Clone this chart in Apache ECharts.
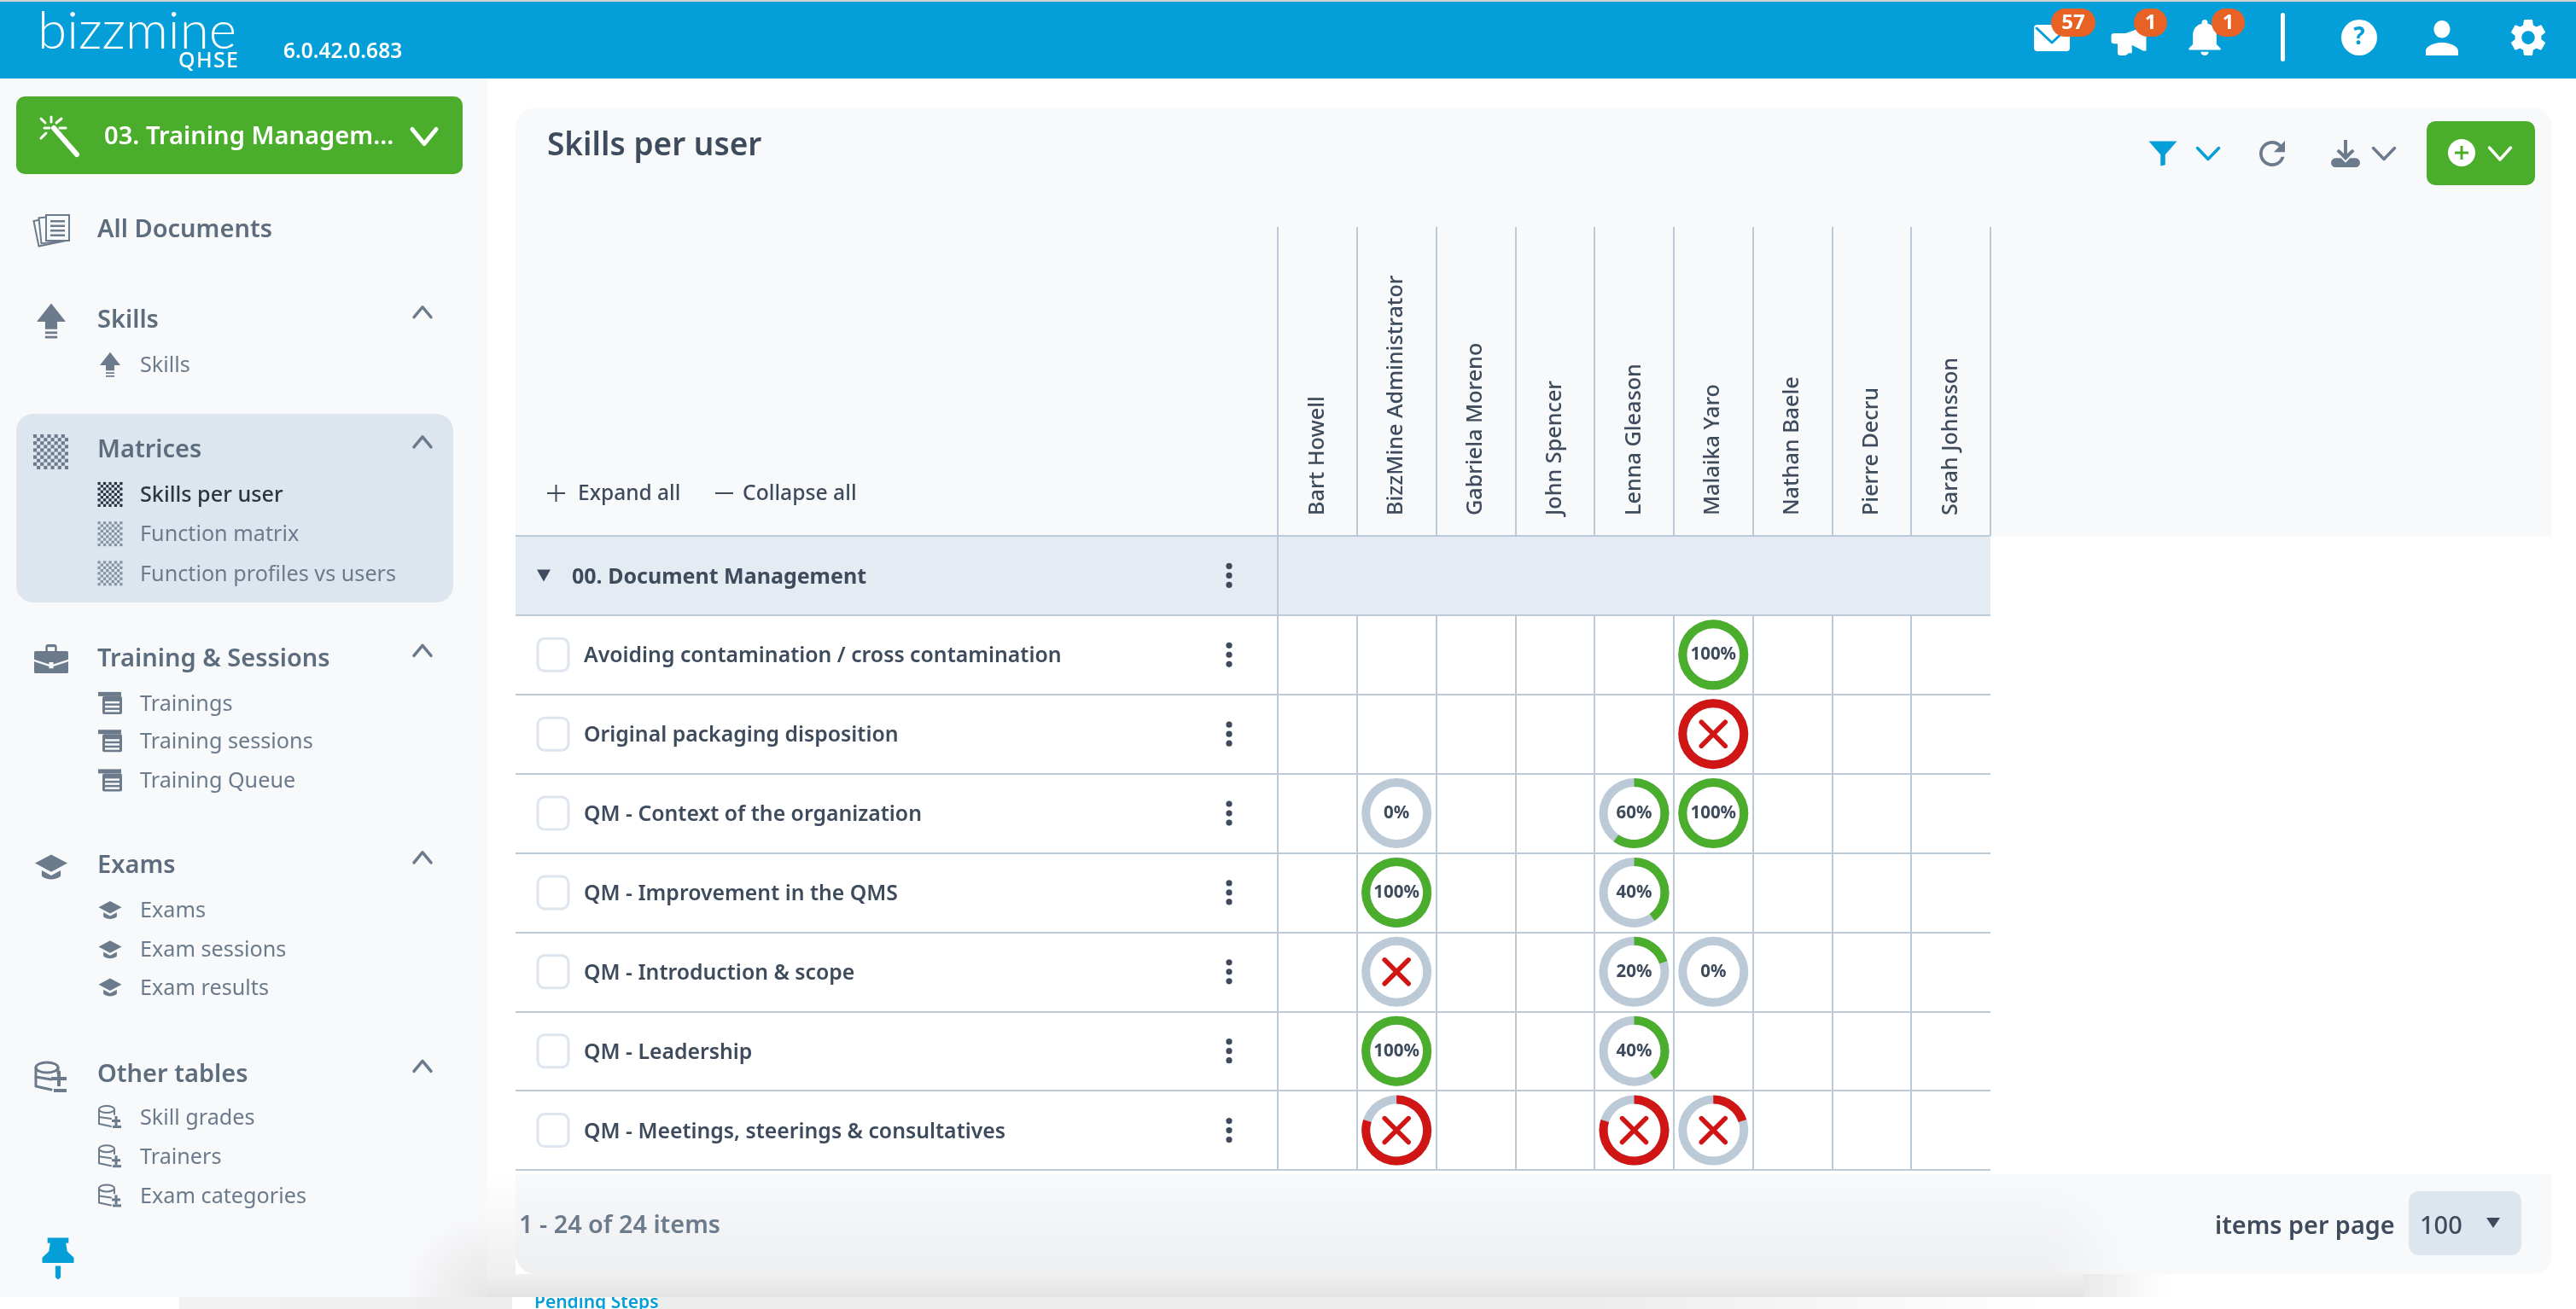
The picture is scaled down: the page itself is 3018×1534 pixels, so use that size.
<!DOCTYPE html>
<html><head><meta charset="utf-8"><style>html,body{margin:0;padding:0;background:#fff}#c{width:3018px;height:1534px}</style>
<script src="https://cdn.jsdelivr.net/npm/echarts@6/dist/echarts.min.js"></script></head>
<body><div id="c"></div><script>
const users=['Bart Howell','BizzMine Administrator','Gabriela Moreno','John Spencer','Lenna Gleason','Malaika Yaro','Nathan Baele','Pierre Decru','Sarah Johnsson'];
const groupName='00. Document Management';
const skills=['Avoiding contamination / cross contamination','Original packaging disposition','QM - Context of the organization','QM - Improvement in the QMS','QM - Introduction & scope','QM - Leadership','QM - Meetings, steerings & consultatives'];
const ringUser=['Malaika Yaro','Malaika Yaro','BizzMine Administrator','Lenna Gleason','Malaika Yaro','BizzMine Administrator','Lenna Gleason','BizzMine Administrator','Lenna Gleason','Malaika Yaro','BizzMine Administrator','Lenna Gleason','BizzMine Administrator','Lenna Gleason','Malaika Yaro'];
const ringSkill=[0,1,2,2,2,3,3,4,4,4,5,5,6,6,6];
const ringPercent=[100,100,0,60,100,100,40,0,20,0,100,40,80,80,20];
const ringFailed=[0,1,0,0,0,0,0,1,0,0,0,0,1,1,1];
const navHeads=[['Skills',194],['Matrices',273],['Training & Sessions',400],['Exams',526],['Other tables',653]];
const navSubs=[['Skills',222,'arrow'],['Skills per user',301,'check'],['Function matrix',325,'check'],['Function profiles vs users',349,'check'],['Trainings',428,'table'],['Training sessions',451,'table'],['Training Queue',475,'table'],['Exams',554,'cap'],['Exam sessions',578,'cap'],['Exam results',601,'cap'],['Skill grades',680,'db'],['Trainers',704,'db'],['Exam categories',728,'db']];

const F='"Noto Sans"',DARK='#3d4b5c',GREY='#6c7b8b',HEAD='#5d6d7e',BLUE='#049fd9',GREEN='#4aad2c',RED='#d01515',LINE='#bccad8',PANEL='#f8f9fb',BAND='#e5ebf2',HILITE='#dde6ef',S=1.925;
const P={
 arrow:'M12 0L24 12H17V17H7V12H0ZM7 18.5H17V20H7ZM7 21.5H17V23H7Z',
 bell:'M12 22c1.1 0 2-.9 2-2h-4c0 1.1.9 2 2 2zm6-6v-5c0-3.07-1.63-5.64-4.5-6.32V4c0-.83-.67-1.5-1.5-1.5s-1.5.67-1.5 1.5v.68C7.64 5.36 6 7.92 6 11v5l-2 2v1h16v-1l-2-2z',
 user:'M12 12c2.21 0 4-1.79 4-4s-1.79-4-4-4-4 1.79-4 4 1.79 4 4 4zm0 2c-2.67 0-8 1.34-8 4v2h16v-2c0-2.66-5.33-4-8-4z',
 gear:'M19.14 12.94c.04-.3.06-.61.06-.94 0-.32-.02-.64-.07-.94l2.03-1.58a.49.49 0 0 0 .12-.61l-1.92-3.32a.488.488 0 0 0-.59-.22l-2.39.96c-.5-.38-1.03-.7-1.62-.94l-.36-2.54a.484.484 0 0 0-.48-.41h-3.84c-.24 0-.43.17-.47.41l-.36 2.54c-.59.24-1.13.57-1.62.94l-2.39-.96c-.22-.08-.47 0-.59.22L2.74 8.87c-.12.21-.08.47.12.61l2.03 1.58c-.05.3-.09.63-.09.94s.02.64.07.94l-2.03 1.58a.49.49 0 0 0-.12.61l1.92 3.32c.12.22.37.29.59.22l2.39-.96c.5.38 1.03.7 1.62.94l.36 2.54c.05.24.24.41.48.41h3.84c.24 0 .44-.17.47-.41l.36-2.54c.59-.24 1.13-.56 1.62-.94l2.39.96c.22.08.47 0 .59-.22l1.92-3.32c.12-.22.07-.47-.12-.61l-2.01-1.58zM12 15.6c-1.98 0-3.6-1.62-3.6-3.6s1.62-3.6 3.6-3.6 3.6 1.62 3.6 3.6-1.62 3.6-3.6 3.6z',
 refresh:'M17.65 6.35A7.958 7.958 0 0 0 12 4c-4.42 0-7.99 3.58-7.99 8s3.57 8 7.99 8c3.73 0 6.84-2.55 7.73-6h-2.08A5.99 5.99 0 0 1 12 18c-3.31 0-6-2.69-6-6s2.69-6 6-6c1.66 0 3.14.69 4.22 1.78L13 11h7V4l-2.35 2.35z',
 funnel:'M0 0H24L14 13V23L10 24V13Z',
 horn:'M0 7Q0 5 2 5H9L20 0H22V20H20L13 15V22H11L9 24H6Q4 24 4 22V14H2Q0 14 0 12Z',
 cap:'M12 4L0 10l12 6 12-6zM5 15v4c4 3 10 3 14 0v-4l-7 3.5z',
 briefcase:'M1 6H23Q24 6 24 7V12L13.5 15.5V14H10.5V15.5L0 12V7Q0 6 1 6ZM8 6V3Q8 1 10 1H14Q16 1 16 3V6H14.5V3H9.5V6ZM0 13.5L10.5 17V18.5H13.5V17L24 13.5V21Q24 22 23 22H1Q0 22 0 21Z',
 pin:'M4 0H20V5H18L19 13L24 19V24H0V19L5 13L6 5H4ZM10 27H14V38L12 40L10 38Z',
 dl:'M10.5 0H13.5V12L18 8L20 10L12 18L4 10L6 8L10.5 12ZM3 16H8L12 20L16 16H21A3 3 0 0 1 21 24H3A3 3 0 0 1 3 16Z'
};
const g=[],reg={};
function shapeOf(d){
 if(!reg[d]){const name='ic'+Object.keys(reg).length,C=echarts.graphic.extendPath(d,{});echarts.graphic.registerShape(name,C);reg[d]={name,b:new C().getBoundingRect()};}
 return reg[d];
}
const rect=(x,y,w,h,fill,r,extra)=>g.push(Object.assign({type:'rect',shape:{x,y,width:w,height:h,r:r||0},style:{fill}},extra||{}));
const txt=(s,x,y,size,weight,fill,align)=>g.push({type:'text',style:{text:s,x,y,font:`${weight} ${size}px ${F}`,fill,align:align||'left',verticalAlign:'middle'}});
const icon=(d,cx,cy,w,h,fill)=>{const k=shapeOf(d),sx=w/k.b.width,sy=h/k.b.height;g.push({type:k.name,x:cx-w/2-k.b.x*sx,y:cy-h/2-k.b.y*sy,scaleX:sx,scaleY:sy,style:{fill}});};
const pl=(pts,stroke,lw)=>g.push({type:'polyline',shape:{points:pts},style:{stroke,lineWidth:lw,fill:'none',lineCap:'round',lineJoin:'round'}});
const circ=(cx,cy,r,fill)=>g.push({type:'circle',shape:{cx,cy,r},style:{fill}});
const chev=(cx,cy,w,h,stroke,lw,up)=>pl(up?[[cx-w/2,cy+h/2],[cx,cy-h/2],[cx+w/2,cy+h/2]]:[[cx-w/2,cy-h/2],[cx,cy+h/2],[cx+w/2,cy-h/2]],stroke,lw);
function checker(x,y,size,n,a){const c=size/n;for(let i=0;i<n;i++)for(let j=0;j<n;j++)if((i+j)%2===0)rect(x+i*c,y+j*c,c,c,a);}
const lin=(x2,y2,stops)=>({type:'linear',x:0,y:0,x2,y2,colorStops:stops.map((c,i)=>({offset:i/(stops.length-1),color:c}))});
function small(kind,cx,cy,c){
 if(kind==='arrow')icon(P.arrow,cx,cy,24,29,c);
 if(kind==='cap')icon(P.cap,cx,cy,27,21,c);
 if(kind==='table'){rect(cx-14,cy-13,27,5,c);rect(cx-9,cy-8,23,21,c,2);for(let i=0;i<3;i++)rect(cx-6,cy-2+i*5,17,2.5,PANEL);}
 if(kind==='check')checker(cx-14.5,cy-14.5,29,9,c);
 if(kind==='db'){const x=cx-13,y=cy-13;g.push({type:'ellipse',shape:{cx:x+9,cy:y+4,rx:9,ry:4},style:{fill:'none',stroke:c,lineWidth:2}});pl([[x,y+4],[x,y+21],[x+14,y+24]],c,2);pl([[x,y+13],[x+14,y+15]],c,2);pl([[x+18,y+5],[x+18,y+10]],c,2);rect(cx+2,cy+3,10,3,c);rect(cx+5.5,cy-1,3,11,c);rect(cx+3,cy+10,10,3,c);}
}
// what shows below the app window
rect(210,1520,2180,14,lin(1,0,['#f2f2f2','#ececec','#ececec','#ececec','#ffffff']));
rect(600,1520,170,14,'#ffffff');
txt('Pending Steps',626,1527,21,600,BLUE);
rect(0,92,571,1428,PANEL);
rect(450,1420,121,100,{type:'radial',x:1,y:1,r:1,colorStops:[{offset:0,color:'#e6e6e6'},{offset:1,color:PANEL}]});
rect(571,1376,33,117,lin(0,1,['#ffffff','#efefef']));
rect(571,1493,1870,27,lin(0,1,['#f0f0f0','#e3e3e3']));
rect(2441,1493,100,27,lin(1,0,['#e9e9e9','#ffffff']));
// header
rect(0,0,3018,2,'#d0d0d0');rect(0,2,3018,90,BLUE);
g.push({type:'text',style:{text:'bizzmine',x:44,y:68,font:`300 62px Lato`,fill:'#fff',verticalAlign:'bottom'}});
[['Q',209],['H',230],['S',250],['E',265]].forEach(q=>txt(q[0],q[1],72,25,500,'#fff'));
txt('6.0.42.0.683',332,61,24.5,600,'#fff');
// header right icons
rect(2383,29,42,31,'#fff',4);pl([[2386,33],[2404,50],[2422,33]],BLUE,3);
icon(P.horn,2494,48.5,41,33,'#fff');icon(P.bell,2583,44,37,42,'#fff');
[[2403,52,'57'],[2500,39,'1'],[2591,39,'1']].forEach(b=>{rect(b[0],10,b[1],33,'#e96225',16.5);txt(b[2],b[0]+b[1]/2,27,24,700,'#fff','center');});
rect(2672,15,5,57,'#fff',2.5);
circ(2764,44,21,'#fff');txt('?',2764,44,28,700,BLUE,'center');
icon(P.user,2861,44.5,38,41,'#fff');icon(P.gear,2962,44,40,42,'#fff');
// green module button
rect(19,113,523,91,GREEN,10);
pl([[63,150],[90,181]],'#fff',6);
[[52,150,58,150],[70,150,77,150],[60,137,60,143],[48,139,53,144],[72,139,66,144],[48,162,54,156]].forEach(a=>pl([[a[0],a[1]],[a[2],a[3]]],'#fff',3));
txt('03. Training Managem...',122,161,29.1,600,'#fff');
chev(497,160,28,17,'#fff',5);
// left nav
rect(19,485,512,221,HILITE,20);
g.push({type:'rect',shape:{x:42,y:256,width:28,height:30},rotation:.2,originX:56,originY:270,style:{fill:PANEL,stroke:GREY,lineWidth:2}});
g.push({type:'rect',shape:{x:47,y:254,width:28,height:30},rotation:.1,originX:60,originY:270,style:{fill:PANEL,stroke:GREY,lineWidth:2}});
g.push({type:'rect',shape:{x:54,y:252,width:27,height:30},style:{fill:PANEL,stroke:GREY,lineWidth:2}});
for(let i=0;i<4;i++)rect(59,258+i*5.5,17,2.5,GREY);
txt('All Documents',114,269.5,29,600,HEAD);
navHeads.forEach(h=>{txt(h[0],114,h[1]*S+2.5,29,600,HEAD);chev(495,(h[1]-4)*S,20,12,GREY,3.5,true);});
icon(P.arrow,60,376,34,41,GREY);
checker(39,509,41,10,GREY);
icon(P.briefcase,60,772,40,34,GREY);icon(P.cap,60,1016,38,29,GREY);
g.push({type:'ellipse',shape:{cx:55,cy:1251,rx:13,ry:6},style:{fill:'none',stroke:GREY,lineWidth:3}});pl([[42,1251],[42,1273],[60,1277]],GREY,3);pl([[42,1262],[60,1265]],GREY,3);pl([[68,1251],[68,1258]],GREY,3);rect(60,1262,18,4,GREY);rect(67,1255,4,18,GREY);rect(63,1276,15,4,GREY);
navSubs.forEach((s,i)=>{const y=s[1]*S,act=s[0]==='Skills per user';small(s[2],129,y,act?'#26323d':(s[2]==='check'?'#8493a1':GREY));txt(s[0],164,y+1.5,25.2,act?500:400,act?'#2b3640':GREY);});
icon(P.pin,68,1475,37,49,BLUE);
// main panel
rect(604,126,2386,510,PANEL,[24,24,0,0]);
rect(604,629,2386,748,'#fff');
rect(604,629,893,91,BAND);
rect(604,1376,2386,117,PANEL,[0,0,24,24]);
rect(604,1376,1780,117,lin(0,1,['rgba(0,0,0,0)','rgba(0,0,0,0.045)']),[0,0,0,24]);
rect(2384,1376,150,117,{type:'radial',x:0,y:1,r:1,colorStops:[{offset:0,color:'rgba(0,0,0,0.045)'},{offset:1,color:'rgba(0,0,0,0)'}]});
// toolbar
icon(P.funnel,2534,180,33,29,BLUE);chev(2587,180,25,13,BLUE,3.5);
icon(P.refresh,2662,180,30,30,GREY);
icon(P.dl,2748,180,34,32,GREY);chev(2793,180,25,13,GREY,3.5);
rect(2843,142,127,75,GREEN,10);circ(2884,179,16,'#fff');rect(2876,177.5,16,3,GREEN);rect(2882.5,171,3,16,GREEN);chev(2929,180,25,14,'#fff',3.5);
// expand collapse
rect(641,577,21,2,DARK);rect(650.5,568,2,20,DARK);txt('Expand all',677,579,24.5,500,DARK);
rect(838,577,21,2,DARK);txt('Collapse all',870,579,24.7,500,DARK);
// footer
txt('1 - 24 of 24 items',608,1437,28.8,600,GREY);
txt('items per page',2595,1438,28.8,600,DARK);
rect(2822,1396,132,75,HILITE,12);
txt('100',2835,1438,29,500,DARK);
g.push({type:'polygon',shape:{points:[[2913,1427],[2929,1427],[2921,1439]]},style:{fill:DARK}});

const rows=[groupName].concat(skills);
const axisLine={show:false};
const gridLine={show:true,lineStyle:{color:LINE,width:2}};
const option={
 animation:false,backgroundColor:'#fff',
 title:{text:'Skills per user',left:641,top:153,padding:0,textStyle:{fontFamily:F,fontSize:37,fontWeight:600,color:DARK}},
 graphic:{z:-1,elements:g},
 grid:[{left:604,top:628,width:893,height:743},{left:1497,top:628,width:835,height:743}],
 xAxis:[
  {gridIndex:0,type:'value',min:0,max:1,show:false},
  {gridIndex:1,type:'category',position:'top',data:users,axisLine:axisLine,
   axisTick:{show:true,length:362,lineStyle:{color:LINE,width:2}},
   splitLine:Object.assign({showMaxLine:false},gridLine),
   axisLabel:{interval:0,rotate:-90,margin:24,fontFamily:F,fontSize:25.2,fontWeight:500,color:DARK}}
 ],
 yAxis:[
  {gridIndex:0,type:'category',inverse:true,data:rows,axisLine:axisLine,axisTick:{show:false},splitLine:gridLine,
   axisLabel:{interval:0,inside:true,align:'left',margin:66,
    formatter:v=>v===groupName?`{g|${v}}`:`{s|${v}}`,
    rich:{g:{fontFamily:F,fontSize:25,fontWeight:700,color:DARK,padding:[4,0,0,0]},s:{fontFamily:F,fontSize:24.8,fontWeight:600,color:DARK,padding:[4,0,0,14]}}}},
  {gridIndex:1,type:'category',inverse:true,data:rows,axisLine:{show:true,lineStyle:{color:LINE,width:2}},axisTick:{show:false},axisLabel:{show:false},splitLine:gridLine}
 ],
 series:[
  {type:'custom',name:'row controls',xAxisIndex:0,yAxisIndex:0,silent:true,coordinateSystem:'cartesian2d',clip:false,
   data:rows.map(r=>[0,r]),encode:{x:0,y:1},
   renderItem(p,api){
    const y=api.coord([0,api.value(1)])[1],kids=[];
    if(rows[p.dataIndex]===groupName){
     kids.push({type:'polygon',shape:{points:[[629,y-7],[645,y-7],[637,y+7]]},style:{fill:DARK}});
    }else{
     kids.push({type:'rect',shape:{x:630,y:y-19,width:36,height:38,r:8},style:{fill:'#fff',stroke:HILITE,lineWidth:3}});
    }
    [-11,0,11].forEach(d=>kids.push({type:'circle',shape:{cx:1440,cy:y+d,r:3.6},style:{fill:DARK}}));
    return {type:'group',children:kids};
   }},
  {type:'custom',name:'group band',xAxisIndex:1,yAxisIndex:1,silent:true,z:1,clip:false,
   data:[[users[0],groupName]],encode:{x:0,y:1},
   renderItem(p,api){
    const c=api.coord([api.value(0),api.value(1)]),s=api.size([1,1]);
    return {type:'rect',shape:{x:c[0]-s[0]/2+1,y:c[1]-s[1]/2+1,width:s[0]*9-1,height:s[1]-2},style:{fill:BAND}};
   }},
  {type:'custom',name:'skill progress',xAxisIndex:1,yAxisIndex:1,silent:true,z:3,clip:false,
   data:ringUser.map((u,i)=>[u,skills[ringSkill[i]],ringPercent[i],ringFailed[i]]),encode:{x:0,y:1},
   renderItem(p,api){
    const c=api.coord([api.value(0),api.value(1)]),pct=api.value(2),failed=api.value(3)===1;
    const col=failed?RED:GREEN,R=41,r0=31,a0=-Math.PI/2,kids=[
     {type:'ring',shape:{cx:c[0],cy:c[1],r:R,r0:r0},style:{fill:LINE}}];
    if(pct>0)kids.push({type:'sector',shape:{cx:c[0],cy:c[1],r:R,r0:r0,startAngle:a0,endAngle:a0+2*Math.PI*pct/100,clockwise:true},style:{fill:col}});
    if(failed){
     [[-1,-1,1,1],[-1,1,1,-1]].forEach(a=>kids.push({type:'line',shape:{x1:c[0]+a[0]*14,y1:c[1]+a[1]*14,x2:c[0]+a[2]*14,y2:c[1]+a[3]*14},style:{stroke:RED,lineWidth:5.5,lineCap:'round'}}));
    }else{
     kids.push({type:'text',style:{text:pct+'%',x:c[0],y:c[1],align:'center',verticalAlign:'middle',font:`700 20.5px ${F}`,fill:DARK}});
    }
    return {type:'group',children:kids};
   }}
 ]
};
echarts.init(document.getElementById('c'),null,{renderer:'canvas'}).setOption(option);
</script></body></html>
